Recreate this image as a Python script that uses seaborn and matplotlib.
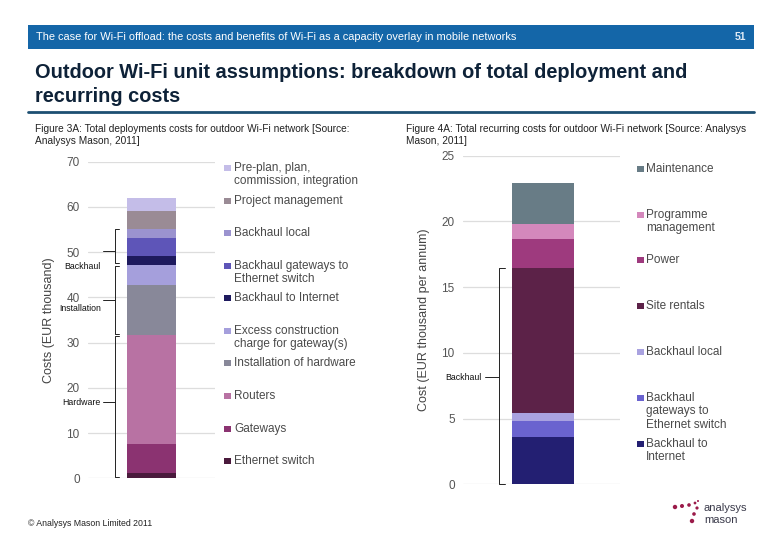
import matplotlib
matplotlib.use("Agg")
import matplotlib.pyplot as plt
import seaborn as sns
import numpy as np
import pandas as pd
from matplotlib.patches import Rectangle, Circle

# ---------------- data ----------------
deploy_labels = ["Ethernet switch", "Gateways", "Routers", "Installation of hardware",
                 "Excess construction\ncharge for gateway(s)", "Backhaul to Internet",
                 "Backhaul gateways to\nEthernet switch", "Backhaul local",
                 "Project management", "Pre-plan, plan,\ncommission, integration"]
deploy_values = [1.1, 6.5, 24.1, 11.0, 4.5, 2.0, 3.9, 2.0, 4.1, 2.7]
deploy_colors = ["#4a1a3c", "#8b3371", "#b872a3", "#888899", "#a59fdc",
                 "#1e1a5e", "#5e55b8", "#9b93cf", "#9a8b95", "#c4bde8"]

recur_labels = ["Backhaul to\nInternet", "Backhaul\ngateways to\nEthernet switch",
                "Backhaul local", "Site rentals", "Power",
                "Programme\nmanagement", "Maintenance"]
recur_values = [3.62, 1.2, 0.58, 11.04, 2.23, 1.12, 3.16]
recur_colors = ["#231f72", "#6a63cf", "#a9a2e0", "#5c2248", "#9e3a7e",
                "#d488bc", "#687c86"]

left_ticks = [0, 10, 20, 30, 40, 50, 60, 70]
right_ticks = [0, 5, 10, 15, 20, 25]

sns.set_theme(style="white")
plt.rcParams['font.family'] = ['Liberation Sans', 'DejaVu Sans']

W, H = 780, 540
fig = plt.figure(figsize=(7.8, 5.4), dpi=100)


def fx(px):
    return px / W


def fy(py):
    return 1 - py / H


def stacked(ax, labels, values, colors, width):
    cum = np.cumsum(values)
    # draw from tallest cumulative down so each segment shows its own colour
    for i in range(len(values) - 1, -1, -1):
        df = pd.DataFrame({"x": ["a"], "y": [cum[i]]})
        sns.barplot(data=df, x="x", y="y", color=colors[i], width=width,
                    saturation=1, ax=ax, linewidth=0)
    return cum


def style_axes(ax, ticks, ylabel):
    ax.set_ylim(ticks[0], ticks[-1])
    ax.set_xlim(-0.5, 0.5)
    ax.set_yticks(ticks)
    ax.set_yticklabels([str(t) for t in ticks], fontsize=8.5, color="#555555")
    ax.tick_params(axis="y", length=0, pad=6)
    ax.set_xticks([])
    ax.set_xlabel("")
    ax.set_ylabel(ylabel, fontsize=9, color="#444444", labelpad=8)
    for s in ax.spines.values():
        s.set_visible(False)
    ax.yaxis.grid(True, color="#dddddd", linewidth=0.9)
    ax.set_axisbelow(True)


# left axes
axL = fig.add_axes([fx(88), fy(478.3), fx(215 - 88), (478.3 - 161.7) / H])
cumL = stacked(axL, deploy_labels, deploy_values, deploy_colors, 0.39)
style_axes(axL, left_ticks, "Costs (EUR thousand)")

# right axes
axR = fig.add_axes([fx(463), fy(484.3), fx(620 - 463), (484.3 - 155.7) / H])
cumR = stacked(axR, recur_labels, recur_values, recur_colors, 0.40)
style_axes(axR, right_ticks, "Cost (EUR thousand per annum)")
axR.set_xlim(-0.51, 0.49)

# overlay for page decorations
ov = fig.add_axes([0, 0, 1, 1], zorder=10)
ov.set_xlim(0, W)
ov.set_ylim(H, 0)
ov.axis("off")
ov.patch.set_alpha(0)

# header bar
ov.add_patch(Rectangle((28, 25), 726, 24, color="#1466a8", lw=0))
ov.text(36, 37.5, "The case for Wi-Fi offload: the costs and benefits of Wi-Fi as a capacity overlay in mobile networks",
        color="white", fontsize=7.9, va="center", ha="left")
ov.text(746, 37.5, "51", color="#dfeaf5", fontsize=7.5, fontweight="bold", va="center", ha="right")

# title
ov.text(35, 72, "Outdoor Wi-Fi unit assumptions: breakdown of total deployment and",
        color="#0e2238", fontsize=14.4, fontweight="bold", va="center", ha="left")
ov.text(35, 97, "recurring costs", color="#0e2238", fontsize=14.4, fontweight="bold",
        va="center", ha="left")
ov.plot([28, 754], [112, 112], color="#1d4f72", lw=2)

# captions
ov.text(35, 129, "Figure 3A: Total deployments costs for outdoor Wi-Fi network [Source:",
        fontsize=7.3, color="#222222", va="center")
ov.text(35, 141, "Analysys Mason, 2011]", fontsize=7.3, color="#222222", va="center")
ov.text(406, 129, "Figure 4A: Total recurring costs for outdoor Wi-Fi network [Source: Analysys",
        fontsize=7.3, color="#222222", va="center")
ov.text(406, 141, "Mason, 2011]", fontsize=7.3, color="#222222", va="center")

# legends (left)
left_leg_y = [461, 429, 396, 363, 331, 298, 266, 233, 201, 168]
for lab, col, y in zip(deploy_labels, deploy_colors, left_leg_y):
    ov.add_patch(Rectangle((224, y - 3.5), 6.5, 6.5, color=col, lw=0))
    ov.text(234, y - 6, lab, fontsize=8.5, color="#4a4a4a", va="top", ha="left",
            linespacing=1.15)

# legends (right)
right_leg_y = [444, 398, 352, 306, 260, 215, 169]
for lab, col, y in zip(recur_labels, recur_colors, right_leg_y):
    ov.add_patch(Rectangle((637, y - 3.5), 6.5, 6.5, color=col, lw=0))
    ov.text(646, y - 6, lab, fontsize=8.5, color="#4a4a4a", va="top", ha="left",
            linespacing=1.15)


# braces
def brace(ax, x_axes, y0, y1, ymid, label, text_dy=0.0):
    tr = ax.get_yaxis_transform()
    h = 0.035
    ax.plot([x_axes + h, x_axes, x_axes, x_axes + h], [y0, y0, y1, y1], color="#222222",
            lw=0.7, transform=tr, clip_on=False)
    ax.plot([x_axes, x_axes - 0.09], [ymid, ymid], color="#222222", lw=0.7,
            transform=tr, clip_on=False)
    ax.text(x_axes - 0.11, ymid + text_dy, label, fontsize=6.3, color="#111111",
            ha="right", va="center", transform=tr, clip_on=False)


brace(axL, 0.21, cumL[4] + 0.3, cumL[7], 50.3, "Backhaul", -3.4)
brace(axL, 0.21, cumL[2] + 0.3, cumL[4] - 0.3, 39.4, "Installation", -1.9)
brace(axL, 0.21, 0.2, cumL[2] - 0.3, 16.9, "Hardware", -0.2)
brace(axR, 0.23, 0.0, cumR[3], 8.2, "Backhaul", -0.1)

# footer
ov.text(28, 524, "\u00a9 Analysys Mason Limited 2011", fontsize=6.3, color="#222222", va="center")
for (cx, cy, r) in [(675, 507, 2.2), (682, 506, 2.0), (689, 505, 1.8), (695, 503, 1.4),
                    (697, 508, 1.6), (694, 514, 1.8), (692, 521, 2.2), (698, 501, 1.0)]:
    ov.add_patch(Circle((cx, cy), r, color="#9b1b4a", lw=0))
ov.text(704, 508, "analysys", fontsize=8, color="#3a3a4a", va="center")
ov.text(704, 520, "mason", fontsize=8, color="#3a3a4a", va="center")

fig.savefig("out.png", dpi=100)
